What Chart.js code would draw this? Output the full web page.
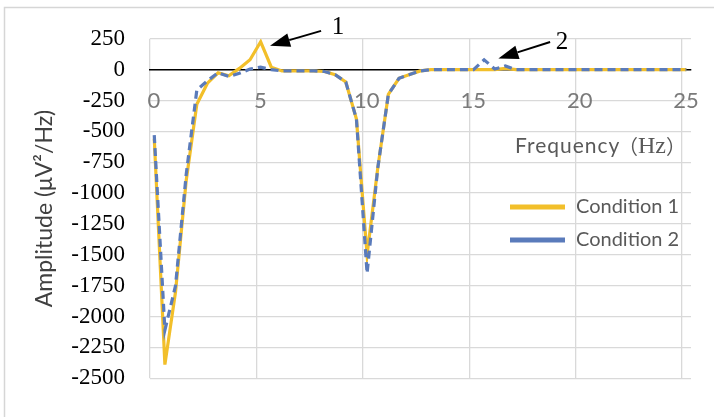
<!DOCTYPE html>
<html><head><meta charset="utf-8">
<script src="https://cdn.jsdelivr.net/npm/chart.js@4/dist/chart.umd.min.js"></script>
<style>html,body{margin:0;padding:0;background:#fff;}#wrap{width:714px;height:417px;position:relative;}</style>
</head><body><div id="wrap"><canvas id="c" width="714" height="417"></canvas></div>
<script>
// Frequency (Hz)
const freq = [0.2,0.7,1.2,1.7,2.2,2.7,3.2,3.7,4.2,4.7,5.2,5.7,6.2,6.7,7.2,7.7,8.2,8.7,9.2,9.7,
  10.2,10.7,11.2,11.7,12.2,12.7,13.2,13.7,14.2,14.7,15.2,15.7,16.2,16.7,17.2,17.7,18.2,18.7,19.2,19.7,
  20.2,20.7,21.2,21.7,22.2,22.7,23.2,23.7,24.2,24.7,25.2];
// Amplitude (µV²/Hz)
const condition1 = [-560,-2390,-1800,-900,-280,-110,-25,-50,10,80,226,20,-10,-10,-10,-10,-15,-40,-100,-400,
  -1500,-800,-200,-70,-40,-10,0,0,0,0,0,0,0,10,0,0,0,0,0,0,
  0,0,0,0,0,0,0,0,0,0,0];
const condition2 = [-530,-2110,-1750,-850,-165,-90,-25,-55,-30,5,20,0,-10,-10,-10,-10,-15,-40,-100,-400,
  -1650,-800,-200,-70,-40,-10,0,0,0,0,0,80,5,30,0,0,0,0,0,0,
  0,0,0,0,0,0,0,0,0,0,0];
const xTicks = [0,5,10,15,20,25];
const yTicks = [250,0,-250,-500,-750,-1000,-1250,-1500,-1750,-2000,-2250,-2500];
const seriesNames = ['Condition 1','Condition 2'];
// annotation arrows (data units): tip, tail, label position
const arrowLabels = ['1','2'];
const arrowTip = [[5.64,194],[16.37,91]];
const arrowTail = [[8.04,314],[18.8,224]];
const arrowText = [[8.83,341],[19.36,218]];

const GOLD = '#F2BF2A', BLUE = '#5A7BBB';

Chart.defaults.font.family = 'Liberation Serif';

const decor = {
  id:'decor',
  beforeDraw(chart){
    const c = chart.ctx;
    c.save();
    c.fillStyle='#fff'; c.fillRect(0,0,chart.width,chart.height);
    c.strokeStyle='#d6d6d6'; c.lineWidth=1.5;
    c.strokeRect(4.5,7.5,chart.width+20,chart.height+20);
    c.restore();
  },
  afterDraw(chart){
    const c = chart.ctx, xs = chart.scales.x, ys = chart.scales.y;
    c.save();
    c.textBaseline='middle';
    c.fillStyle='#595959';
    c.textAlign='left';
    const ty=146;
    c.font='21px Lato';
    c.letterSpacing='1px';
    c.fillText('Frequency', 515, ty);
    c.letterSpacing='0px';
    c.font='20px "Noto Sans CJK JP"';
    c.fillText('（', 618, ty);
    c.font='24px "Liberation Serif"';
    c.fillText('Hz', 638, ty+1);
    c.font='20px "Noto Sans CJK JP"';
    c.fillText('）', 666, ty);
    const cols=[GOLD,BLUE];
    seriesNames.forEach((n,i)=>{
      const ly = 207 + i*33;
      c.strokeStyle=cols[i]; c.lineWidth=5; c.setLineDash([]);
      c.beginPath(); c.moveTo(510,ly); c.lineTo(565,ly); c.stroke();
      c.fillStyle='#595959'; c.font='20px Lato'; c.textAlign='left';
      c.fillText(n, 576, ly);
    });
    arrowLabels.forEach((lab,i)=>{
      const px=xs.getPixelForValue(arrowTip[i][0]), py=ys.getPixelForValue(arrowTip[i][1]);
      const qx=xs.getPixelForValue(arrowTail[i][0]), qy=ys.getPixelForValue(arrowTail[i][1]);
      const ang=Math.atan2(py-qy,px-qx);
      const hl=20, hw=7;
      const bx=px-hl*Math.cos(ang), by=py-hl*Math.sin(ang);
      c.strokeStyle='#000'; c.lineWidth=2;
      c.beginPath(); c.moveTo(qx,qy); c.lineTo(bx,by); c.stroke();
      c.fillStyle='#000';
      c.beginPath(); c.moveTo(px,py);
      c.lineTo(bx+hw*Math.sin(ang), by-hw*Math.cos(ang));
      c.lineTo(bx-hw*Math.sin(ang), by+hw*Math.cos(ang));
      c.closePath(); c.fill();
      c.font='25px "Liberation Serif"'; c.textAlign='center'; c.textBaseline='middle';
      c.fillText(lab, xs.getPixelForValue(arrowText[i][0]), ys.getPixelForValue(arrowText[i][1]));
    });
    c.restore();
  }
};

new Chart(document.getElementById('c'), {
  type:'line',
  data:{
    datasets:[
      {label:seriesNames[0], data:freq.map((f,i)=>({x:f,y:condition1[i]})), borderColor:GOLD, borderWidth:3.2,
       pointRadius:0, tension:0, fill:false, order:2},
      {label:seriesNames[1], data:freq.map((f,i)=>({x:f,y:condition2[i]})), borderColor:BLUE, borderWidth:3.2,
       borderDash:[8,5], pointRadius:0, tension:0, fill:false, order:1}
    ]
  },
  options:{
    responsive:false, animation:false, devicePixelRatio:1,
    layout:{padding:{left:27, top:35, right:23, bottom:36.5}},
    plugins:{legend:{display:false}, tooltip:{enabled:false}},
    scales:{
      x:{type:'linear', min:0, max:25.42, position:{y:0},
        afterBuildTicks:(s)=>{s.ticks=xTicks.map(v=>({value:v}));},
        afterFit:(s)=>{s.height=0;},
        grid:{color:'#d9d9d9', lineWidth:1.3, drawTicks:false},
        border:{display:true, color:'#000', width:1.5},
        ticks:{font:{family:'Lato', size:22}, color:'#7a7a7a', padding:18, maxRotation:0, labelOffset:4,
          callback:(v)=>String(v)}
      },
      y:{type:'linear', min:-2500, max:250,
        afterBuildTicks:(s)=>{s.ticks=yTicks.map(v=>({value:v}));},
        afterFit:(s)=>{s.width=123;},
        grid:{color:'#d9d9d9', lineWidth:1.3, drawTicks:false},
        border:{display:false},
        ticks:{font:{family:'Liberation Serif', size:23}, color:'#000', padding:25,
          callback:(v)=>String(v)},
        title:{display:true, text:'Amplitude (μV²/Hz)', font:{family:'Lato', size:23}, color:'#404040', padding:{top:4,bottom:4}}
      }
    }
  },
  plugins:[decor]
});
</script>
</body></html>
